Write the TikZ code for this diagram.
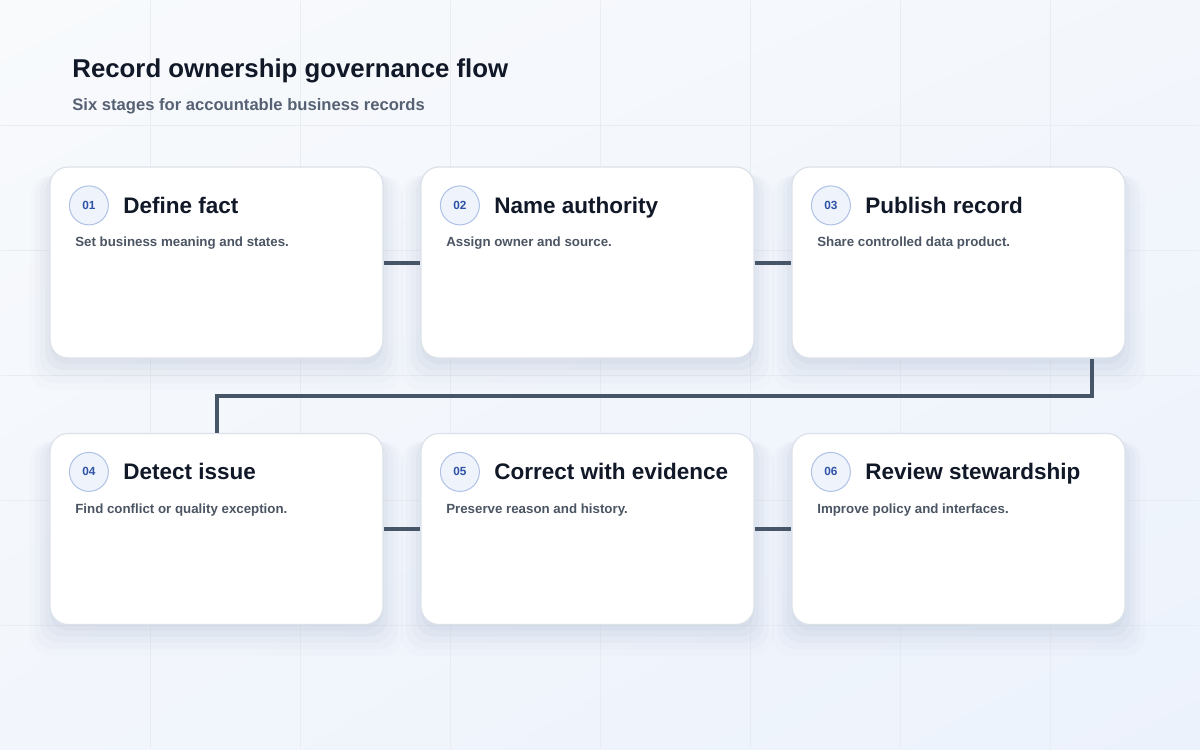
\documentclass[tikz,border=0pt]{standalone}
\usepackage{fontspec}
\setmainfont{Liberation Sans}
\usetikzlibrary{calc,shadows,shadings,positioning}
\definecolor{PaperClr}{HTML}{F8FAFC}
\definecolor{PaperDeepClr}{HTML}{ECF2FC}
\definecolor{GridClr}{HTML}{E9EDF3}
\definecolor{InkClr}{HTML}{111827}
\definecolor{MutedClr}{HTML}{566173}
\definecolor{TextClr}{HTML}{4B5563}
\definecolor{EdgeClr}{HTML}{DCE2EA}
\definecolor{ShadowClr}{HTML}{7F8FAD}
\definecolor{LinkClr}{HTML}{475569}
\definecolor{BadgeClr}{HTML}{EEF3FC}
\definecolor{BadgeEdgeClr}{HTML}{AFC2E6}
\definecolor{BadgeInkClr}{HTML}{2F52A6}

\tikzset{
  card/.style={rectangle,rounded corners=9pt,minimum width=166.5pt,minimum height=95.5pt,
    inner sep=0pt,fill=white,draw=EdgeClr,line width=0.6pt,
    general shadow={shadow yshift=-9pt,shadow scale=1.12,opacity=0.025,fill=ShadowClr},
    general shadow={shadow yshift=-7.5pt,shadow scale=1.09,opacity=0.03,fill=ShadowClr},
    general shadow={shadow yshift=-6pt,shadow scale=1.06,opacity=0.04,fill=ShadowClr},
    general shadow={shadow yshift=-4.5pt,shadow scale=1.03,opacity=0.05,fill=ShadowClr},
    general shadow={shadow yshift=-3pt,shadow scale=1.0,opacity=0.06,fill=ShadowClr}},
  badge/.style={circle,minimum size=19.5pt,inner sep=0pt,fill=BadgeClr,draw=BadgeEdgeClr,
    line width=0.5pt,text=BadgeInkClr,font=\fontsize{5.9pt}{6pt}\selectfont\bfseries},
  stagetitle/.style={anchor=base west,inner sep=0pt,text=InkClr,
    font=\fontsize{11.25pt}{13pt}\selectfont\bfseries},
  stagetext/.style={anchor=base west,inner sep=0pt,text=TextClr,
    font=\fontsize{6.65pt}{8pt}\selectfont\bfseries},
  link/.style={draw=LinkClr,line width=2pt,line join=miter}
}

\begin{document}
\begin{tikzpicture}[x=0.5pt,y=-0.5pt]
\useasboundingbox (0,0) rectangle (1200,750);
\shade[upper left=PaperClr,upper right=PaperClr!60!PaperDeepClr,lower left=PaperClr!50!PaperDeepClr,lower right=PaperDeepClr]
  (0,0) rectangle (1200,750);
\draw[GridClr,line width=0.5pt,xstep=75pt,ystep=62.5pt] (1,1) grid (1199,749);

\node[anchor=base west,inner sep=0pt,text=InkClr,font=\fontsize{12.9pt}{15pt}\selectfont\bfseries]
  (title) at (72,77) {Record ownership governance flow};
\node[anchor=base west,inner sep=0pt,text=MutedClr,font=\fontsize{8.3pt}{10pt}\selectfont\bfseries]
  (subtitle) at (72,110) {Six stages for accountable business records};

\node[card] (card1) at (216.5,262.5) {};
\node[card] (card2) at (587.5,262.5) {};
\node[card] (card3) at (958.5,262.5) {};
\node[card] (card4) at (216.5,529) {};
\node[card] (card5) at (587.5,529) {};
\node[card] (card6) at (958.5,529) {};

\node[badge] (badge1) at ($(card1.north west)+(39.5,39)$) {01};
\node[stagetitle] (title1) at ($(card1.north west)+(73.5,47)$) {Define fact};
\node[stagetext] (text1) at ($(card1.north west)+(25.5,80.5)$) {Set business meaning and states.};

\node[badge] (badge2) at ($(card2.north west)+(39.5,39)$) {02};
\node[stagetitle] (title2) at ($(card2.north west)+(73.5,47)$) {Name authority};
\node[stagetext] (text2) at ($(card2.north west)+(25.5,80.5)$) {Assign owner and source.};

\node[badge] (badge3) at ($(card3.north west)+(39.5,39)$) {03};
\node[stagetitle] (title3) at ($(card3.north west)+(73.5,47)$) {Publish record};
\node[stagetext] (text3) at ($(card3.north west)+(25.5,80.5)$) {Share controlled data product.};

\node[badge] (badge4) at ($(card4.north west)+(39.5,39)$) {04};
\node[stagetitle] (title4) at ($(card4.north west)+(73.5,47)$) {Detect issue};
\node[stagetext] (text4) at ($(card4.north west)+(25.5,80.5)$) {Find conflict or quality exception.};

\node[badge] (badge5) at ($(card5.north west)+(39.5,39)$) {05};
\node[stagetitle] (title5) at ($(card5.north west)+(73.5,47)$) {Correct with evidence};
\node[stagetext] (text5) at ($(card5.north west)+(25.5,80.5)$) {Preserve reason and history.};

\node[badge] (badge6) at ($(card6.north west)+(39.5,39)$) {06};
\node[stagetitle] (title6) at ($(card6.north west)+(73.5,47)$) {Review stewardship};
\node[stagetext] (text6) at ($(card6.north west)+(25.5,80.5)$) {Improve policy and interfaces.};

\draw[link] (card1.east) -- (card2.west);
\draw[link] (card2.east) -- (card3.west);
\draw[link] ([xshift=-17pt]card3.south east) -- ++(0,37) -| (card4.north);
\draw[link] (card4.east) -- (card5.west);
\draw[link] (card5.east) -- (card6.west);

\end{tikzpicture}
\end{document}
